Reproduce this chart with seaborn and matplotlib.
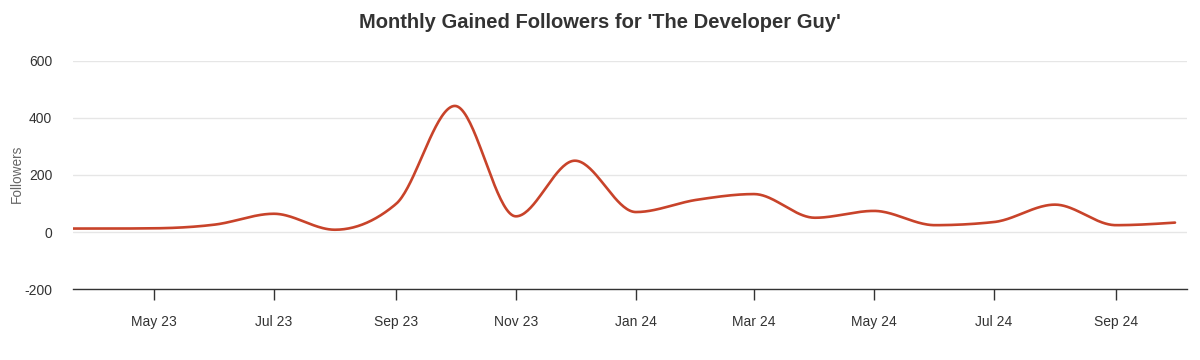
import numpy as np
import pandas as pd
import matplotlib
matplotlib.use("Agg")
import matplotlib.pyplot as plt
import matplotlib.dates as mdates
import seaborn as sns

# ---- data ----
months = ["2023-03-01", "2023-04-01", "2023-05-01", "2023-06-01", "2023-07-01",
          "2023-08-01", "2023-09-01", "2023-10-01", "2023-11-01", "2023-12-01",
          "2024-01-01", "2024-02-01", "2024-03-01", "2024-04-01", "2024-05-01",
          "2024-06-01", "2024-07-01", "2024-08-01", "2024-09-01", "2024-10-01"]
followers = [12, 12, 13, 26, 64, 8, 98, 442, 55, 250,
             70, 113, 133, 50, 74, 24, 35, 96, 24, 33]
tick_months = ["2023-05-01", "2023-07-01", "2023-09-01", "2023-11-01", "2024-01-01",
               "2024-03-01", "2024-05-01", "2024-07-01", "2024-09-01"]
y_ticks = [-200, 0, 200, 400, 600]
title = "Monthly Gained Followers for 'The Developer Guy'"
y_label = "Followers"

# ---- monotone (d3 monotoneX) smoothing for rendering ----
def _sign(v):
    return -1.0 if v < 0 else 1.0

def monotone_curve(x, y, n=40):
    x = np.asarray(x, float); y = np.asarray(y, float)
    m = len(x)
    t = np.zeros(m)
    for i in range(1, m - 1):
        h0 = x[i] - x[i - 1]; h1 = x[i + 1] - x[i]
        s0 = (y[i] - y[i - 1]) / h0; s1 = (y[i + 1] - y[i]) / h1
        p = (s0 * h1 + s1 * h0) / (h0 + h1)
        t[i] = (_sign(s0) + _sign(s1)) * min(abs(s0), abs(s1), 0.5 * abs(p))
    h = x[1] - x[0]
    t[0] = (3 * (y[1] - y[0]) / h - t[1]) / 2
    h = x[-1] - x[-2]
    t[-1] = (3 * (y[-1] - y[-2]) / h - t[-2]) / 2
    xs, ys = [], []
    for i in range(m - 1):
        dx = (x[i + 1] - x[i]) / 3
        P0 = (x[i], y[i]); P1 = (x[i] + dx, y[i] + dx * t[i])
        P2 = (x[i + 1] - dx, y[i + 1] - dx * t[i + 1]); P3 = (x[i + 1], y[i + 1])
        u = np.linspace(0, 1, n, endpoint=(i == m - 2))
        b0 = (1 - u) ** 3; b1 = 3 * u * (1 - u) ** 2; b2 = 3 * u ** 2 * (1 - u); b3 = u ** 3
        xs.append(b0 * P0[0] + b1 * P1[0] + b2 * P2[0] + b3 * P3[0])
        ys.append(b0 * P0[1] + b1 * P1[1] + b2 * P2[1] + b3 * P3[1])
    return np.concatenate(xs), np.concatenate(ys)

dates = pd.to_datetime(months)
xnum = mdates.date2num(dates)
sx, sy = monotone_curve(xnum, followers)
df = pd.DataFrame({"date": mdates.num2date(sx), "followers": sy})
df["date"] = pd.to_datetime(df["date"]).dt.tz_localize(None)

# ---- style ----
sns.set_theme(style="white")
plt.rcParams["font.family"] = ["Liberation Sans", "DejaVu Sans"]
plt.rcParams["axes.unicode_minus"] = False

fig = plt.figure(figsize=(12, 3.6), dpi=100)
ax = fig.add_axes([0.061, 0.197, 0.928, 0.634])

ax.set_ylim(-200, 600)
ax.set_yticks(y_ticks)
ax.yaxis.grid(True, color="#e6e6e6", linewidth=1)
ax.set_axisbelow(True)

sns.lineplot(data=df, x="date", y="followers", ax=ax, color="#c8432a",
             linewidth=1.9, sort=False, estimator=None)

ax.set_xlim(pd.Timestamp("2023-03-21"), pd.Timestamp("2024-10-07"))
ax.set_xticks(pd.to_datetime(tick_months))
ax.xaxis.set_major_formatter(mdates.DateFormatter("%b %y"))

for s in ["top", "right", "left"]:
    ax.spines[s].set_visible(False)
ax.spines["bottom"].set_color("#333333")
ax.spines["bottom"].set_linewidth(1)

ax.tick_params(axis="x", which="major", length=8, width=1, color="#333333",
               direction="out", pad=11, labelsize=10, labelcolor="#333333", bottom=True)
ax.tick_params(axis="y", length=0, pad=15, labelsize=10, labelcolor="#333333")
for lbl in ax.get_yticklabels():
    lbl.set_horizontalalignment("right")

ax.set_xlabel("")
ax.set_ylabel("")
fig.text(0.008, 0.517, y_label, rotation=90, ha="left", va="center",
         fontsize=9.8, color="#666666")
fig.text(0.5, 0.938, title, ha="center", va="center", fontsize=14.5,
         fontweight="bold", color="#333333")

fig.savefig("out.png", dpi=100)
